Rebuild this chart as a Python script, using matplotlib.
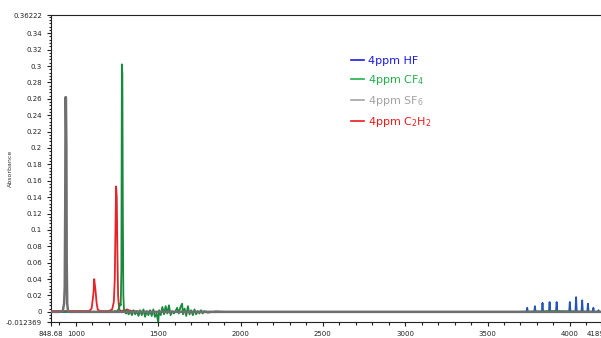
import matplotlib
matplotlib.use("Agg")
import matplotlib.pyplot as plt
from matplotlib.ticker import FixedLocator, MultipleLocator

# x range of the spectrum
x_min, x_max = 848.68, 4189.37
y_min, y_max = -0.012369, 0.36222

# SF6 (gray)
wn_sf6 = [x_min, 900, 920, 928, 932, 935, 937, 939, 942, 944, 947, 952, 960, x_max]
ab_sf6 = [0.0, 0.0, 0.001, 0.01, 0.03, 0.13, 0.262, 0.262, 0.2, 0.06, 0.01, 0.001, 0.0, 0.0]

# C2H2 (red)
wn_c2h2 = [x_min, 900, 1000, 1080, 1095, 1102, 1107, 1111, 1115, 1119, 1125, 1132, 1145,
           1200, 1220, 1230, 1236, 1240, 1244, 1248, 1252, 1256, 1262, 1270,
           1300, 1310, 1320, 1340, 1400, 2000, 2500, 3000, 3500, x_max]
ab_c2h2 = [0.001, 0.001, 0.001, 0.001, 0.004, 0.015, 0.024, 0.040, 0.033, 0.026, 0.012, 0.003, 0.001,
           0.001, 0.003, 0.012, 0.04, 0.10, 0.153, 0.14, 0.07, 0.02, 0.004, 0.001,
           0.002, 0.003, 0.002, 0.001, 0.0, 0.0, 0.0, 0.0, 0.0, 0.0]

# CF4 (green)
wn_cf4 = [x_min, 1200, 1250, 1262, 1267, 1272, 1276, 1279, 1282, 1285, 1288, 1292, 1298,
          1305, 1310, 1320, 1330, 1340, 1350, 1360, 1370, 1380, 1390, 1400, 1410, 1420, 1430,
          1440, 1450, 1460, 1470, 1480, 1490, 1500, 1505, 1515, 1525, 1535, 1545, 1555, 1565,
          1575, 1585, 1595, 1605, 1615, 1625, 1635, 1645, 1650, 1660, 1670, 1680, 1690, 1700,
          1710, 1720, 1730, 1740, 1750, 1760, 1770, 1780, 1800, 1850, 1900, 3700, 3900, x_max]
ab_cf4 = [0.0, 0.0, 0.001, 0.004, 0.01, 0.008, 0.05, 0.302, 0.29, 0.12, 0.02, 0.002, 0.0,
          -0.002, 0.002, -0.003, 0.001, -0.004, 0.002, -0.003, 0.001, -0.005, 0.002, -0.004, 0.003,
          -0.006, 0.001, -0.004, 0.002, -0.005, 0.003, -0.006, -0.002, -0.013, 0.002, -0.004, 0.006,
          -0.003, 0.007, -0.002, 0.008, -0.004, 0.001, -0.002, 0.001, 0.005, -0.002, 0.006, 0.010,
          -0.003, 0.004, -0.005, 0.007, -0.003, 0.002, -0.004, 0.003, -0.003, 0.001, -0.002, 0.002,
          -0.002, 0.001, -0.001, 0.0005, 0.0, 0.0, 0.001, 0.0]

# HF (blue) - rovibrational lines
wn_hf = [x_min, 3700, 3737, 3741, 3745, 3784, 3788, 3792, 3830, 3834, 3838, 3873, 3877, 3881,
         3916, 3920, 3924, 3996, 4000, 4004, 4034, 4038, 4042, 4071, 4075, 4079,
         4106, 4110, 4114, 4139, 4143, 4147, 4170, 4174, 4178, x_max]
ab_hf = [0.0, 0.0, 0.0, 0.005, 0.0, 0.0, 0.007, 0.0, 0.0, 0.011, 0.0, 0.0, 0.012, 0.0,
         0.0, 0.012, 0.0, 0.0, 0.012, 0.0, 0.0, 0.018, 0.0, 0.0, 0.014, 0.0,
         0.0, 0.010, 0.0, 0.0, 0.005, 0.0, 0.0, 0.002, 0.0, 0.0]

x_ticks = [x_min, 1000, 1500, 2000, 2500, 3000, 3500, 4000, x_max]
x_labels = ["848.68", "1000", "1500", "2000", "2500", "3000", "3500", "4000", "4189.37"]
y_ticks = [y_min] + [round(0.02 * i, 2) for i in range(18)] + [y_max]
y_labels = ["-0.012369"] + [("%g" % v) for v in y_ticks[1:-1]] + ["0.36222"]

fig = plt.figure(figsize=(6.01, 3.38), dpi=100)
ax = fig.add_axes([0.0849, 0.0473, 0.9151, 0.9083])

ax.plot(wn_hf, ab_hf, color="#2454b8", lw=1.3, zorder=2)
ax.plot(wn_c2h2, ab_c2h2, color="#e52329", lw=1.3, zorder=3)
ax.plot(wn_cf4, ab_cf4, color="#178a3c", lw=1.3, zorder=4)
ax.plot(wn_sf6, ab_sf6, color="#6f6f6f", lw=1.8, zorder=5)

ax.set_xlim(x_min, x_max)
ax.set_ylim(y_min, y_max)
ax.xaxis.set_major_locator(FixedLocator(x_ticks))
ax.set_xticklabels(x_labels)
ax.xaxis.set_minor_locator(MultipleLocator(100))
ax.yaxis.set_major_locator(FixedLocator(y_ticks))
ax.set_yticklabels(y_labels)
ax.yaxis.set_minor_locator(MultipleLocator(0.004))
ax.tick_params(which="both", labelsize=5, colors="#222222", width=0.8)
ax.tick_params(which="major", length=3)
ax.tick_params(which="minor", length=1.8)
ax.spines["right"].set_visible(False)
for s in ["left", "bottom", "top"]:
    ax.spines[s].set_linewidth(0.8)
    ax.spines[s].set_color("#222222")

ax.set_ylabel("Absorbance", fontsize=4.5, color="#333333")
ax.yaxis.set_label_coords(-0.07, 0.5)
ax.set_xlabel("Wavenumbers (cm-1)", fontsize=5, color="#333333", labelpad=8)

# legend
leg_labels = ["4ppm HF", "4ppm CF$_4$", "4ppm SF$_6$", "4ppm C$_2$H$_2$"]
leg_colors = ["#1a1ae0", "#22b04a", "#a3a3a3", "#ef1a1a"]
handles = [plt.Line2D([], [], color=c, lw=1.2) for c in leg_colors]
leg = ax.legend(handles, leg_labels, loc="upper left", bbox_to_anchor=(0.527, 0.898),
                frameon=False, fontsize=8, handlelength=1.2, handletextpad=0.3,
                labelspacing=0.62)
for t, c in zip(leg.get_texts(), leg_colors):
    t.set_color(c)

fig.savefig("out.png", dpi=100)
